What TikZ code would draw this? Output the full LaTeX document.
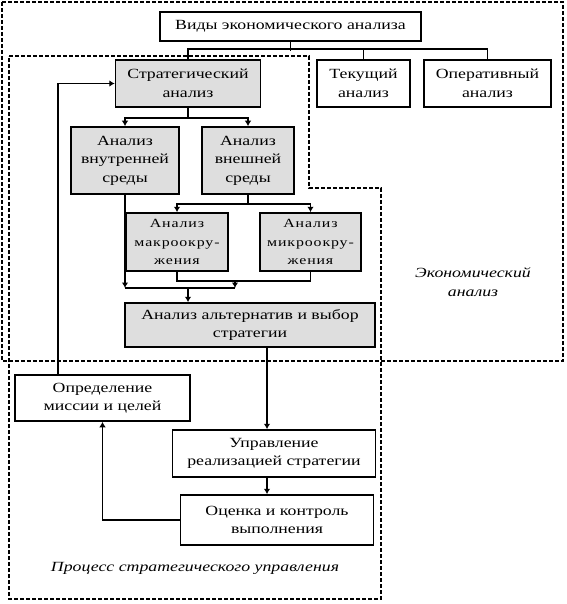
\documentclass[tikz,border=0pt]{standalone}
\usepackage{fontspec}
\setmainfont{Liberation Serif}[FakeStretch=1.27]
\usetikzlibrary{arrows.meta}
\definecolor{boxgray}{HTML}{DEDEDE}

\begin{document}
\begin{tikzpicture}[x=1pt, y=-1pt, font=\fontsize{14}{18.5}\selectfont,
  box/.style={draw, line width=1.5pt, align=center, inner sep=0pt},
  greybox/.style={box, fill=boxgray},
  smallbox/.style={greybox, font=\fontsize{12.5}{18.5}\selectfont\addfontfeature{LetterSpace=7}},
  sz/.style 2 args={minimum width=#1pt, minimum height=#2pt},
  link/.style={line width=1.6pt},
  arr/.style={line width=1.6pt, -{Latex[length=5.5pt,width=6.5pt]}},
  frame/.style={line width=2pt, dash pattern=on 4pt off 2pt},
  caption/.style={font=\fontsize{14}{19}\selectfont\itshape, align=center}]
  \useasboundingbox (0,0) rectangle (566,604);

  % dashed frames: economic analysis and strategic management
  \draw[frame] (2,2) rectangle (563,361);
  \draw[frame] (9,56) -- (309,56) -- (309,188) -- (381,188) -- (381,599) -- (9,599) -- cycle;

  % kinds of analysis
  \node[box, sz={261}{29}] (types) at (290.5,26.5) {Виды экономического анализа};
  \node[greybox, sz={145}{47}] (strat) at (188,83.5) {Стратегический\\анализ};
  \node[box, sz={93}{47}] (tek) at (363.5,83.5) {Текущий\\анализ};
  \node[box, sz={127}{47}] (oper) at (487.5,83.5) {Оперативный\\анализ};

  % environment analysis
  \node[greybox, sz={108}{67}] (vnutr) at (125,160.5) {Анализ\\внутренней\\среды};
  \node[greybox, sz={92}{67}] (vnesh) at (248,160.5) {Анализ\\внешней\\среды};
  \node[smallbox, sz={102}{58}] (macro) at (177,242) {Анализ\\макроокру-\\жения};
  \node[smallbox, sz={101}{58}] (micro) at (310.5,242) {Анализ\\микроокру-\\жения};
  \node[greybox, sz={250}{44}] (alt) at (250,325) {Анализ альтернатив и выбор\\стратегии};

  % strategic management cycle
  \node[box, sz={175}{46}] (opred) at (102.5,398) {Определение\\миссии и целей};
  \node[box, sz={203}{47}] (uprav) at (274,453.5) {Управление\\реализацией стратегии};
  \node[box, sz={193}{50}] (ocenka) at (277,520) {Оценка и контроль\\выполнения};

  % captions
  \node[caption] (econ) at (473,282) {Экономический\\анализ};
  \node[caption] (proc) at (195,568) {Процесс стратегического управления};

  % tree under the top box
  \draw[link] (types.south) -- ++(0,9);
  \draw[link] (strat.north) -- ++(0,-10) -| (oper.north);
  \draw[link] (tek.north) -- ++(0,-10);

  % strategic analysis branches
  \draw[link] (strat.south) -- ++(0,10) coordinate (s1);
  \draw[arr] (s1) -| (vnutr.north);
  \draw[arr] (s1) -| (vnesh.north);
  \draw[link] (vnesh.south) -- ++(0,9) coordinate (e1);
  \draw[arr] (e1) -| (macro.north);
  \draw[arr] (e1) -| (micro.north);

  % joining into alternatives
  \coordinate (j1) at (235,288);
  \coordinate (j2) at (188,288);
  \draw[link] (macro.south) -- ++(0,9) coordinate (m1) -| (micro.south);
  \draw[arr] (m1 -| j1) -- (j1);
  \draw[arr] (vnutr.south) -- (vnutr.south |- j1);
  \draw[link] (vnutr.south |- j1) -- (j1);
  \draw[arr] (j2) -- (j2 |- alt.north);

  % down the cycle and back
  \coordinate (a1) at (267,400);
  \draw[arr] (alt.south -| a1) -- (uprav.north -| a1);
  \draw[arr] (uprav.south -| a1) -- (ocenka.north -| a1);
  \draw[arr] (ocenka.west) -| (opred.south);
  \draw[arr] ([xshift=-44.5pt]opred.north) |- (strat.west);
\end{tikzpicture}
\end{document}
